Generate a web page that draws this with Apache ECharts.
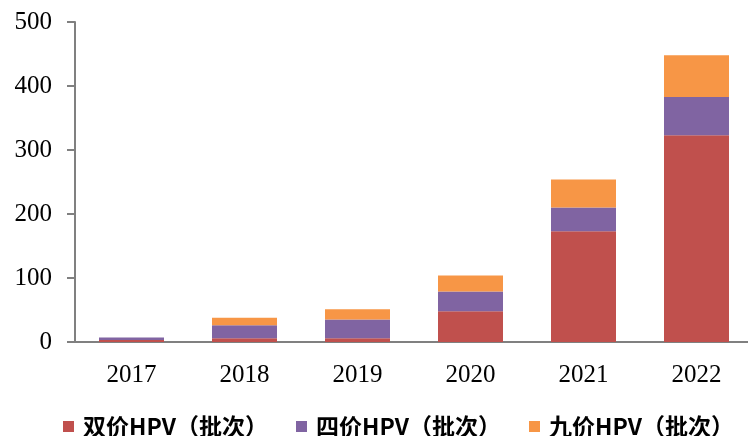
<!DOCTYPE html>
<html>
<head>
<meta charset="utf-8">
<script src="https://cdn.jsdelivr.net/npm/echarts@6/dist/echarts.min.js"></script>
<style>
  html, body { margin: 0; padding: 0; background: #fff; }
  #chart { width: 748px; height: 436px; }
</style>
</head>
<body>
<div id="chart"></div>
<script>
  // 年份 与 各类疫苗批签发批次
  var years = ['2017', '2018', '2019', '2020', '2021', '2022']
  var bivalent = [3, 6, 6, 48, 173, 323]
  var quadrivalent = [4, 20, 29, 31, 37, 60]
  var nonavalent = [0, 12, 16, 25, 44, 65]
  var seriesNames = ['双价HPV（批次）', '四价HPV（批次）', '九价HPV（批次）']
  var colors = ['#C0504D', '#8064A2', '#F79646']

  var chart = echarts.init(document.getElementById('chart'))
  var serif = '"Liberation Serif", "Times New Roman", serif'

  var option = {
    animation: false,
    color: colors,
    grid: { left: 75, top: 22, right: -5, height: 320, outerBoundsMode: 'none' },
    legend: {
      top: 410,
      left: 58,
      width: 690,
      itemWidth: 11,
      itemHeight: 11,
      itemGap: 28,
      icon: 'rect',
      textStyle: {
        fontFamily: '"Noto Sans CJK SC", sans-serif',
        fontWeight: 'bold',
        fontSize: 23,
        color: '#000',
        padding: [0, 0, 0, 4]
      },
      data: seriesNames
    },
    xAxis: {
      type: 'category',
      data: years,
      axisLine: { lineStyle: { color: '#808080', width: 2 } },
      axisTick: { show: false },
      axisLabel: { fontFamily: serif, fontSize: 25, color: '#000', margin: 21 }
    },
    yAxis: {
      type: 'value',
      min: 0,
      max: 500,
      interval: 100,
      splitLine: { show: false },
      axisLine: { show: true, lineStyle: { color: '#808080', width: 2 } },
      axisTick: { show: true, length: 8, lineStyle: { color: '#808080', width: 2 } },
      axisLabel: { fontFamily: serif, fontSize: 25, color: '#000', margin: 23 }
    },
    series: [
      { name: seriesNames[0], type: 'bar', stack: 'hpv', barWidth: 65, data: bivalent },
      { name: seriesNames[1], type: 'bar', stack: 'hpv', barWidth: 65, data: quadrivalent },
      { name: seriesNames[2], type: 'bar', stack: 'hpv', barWidth: 65, data: nonavalent }
    ]
  }
  chart.setOption(option)
</script>
</body>
</html>
